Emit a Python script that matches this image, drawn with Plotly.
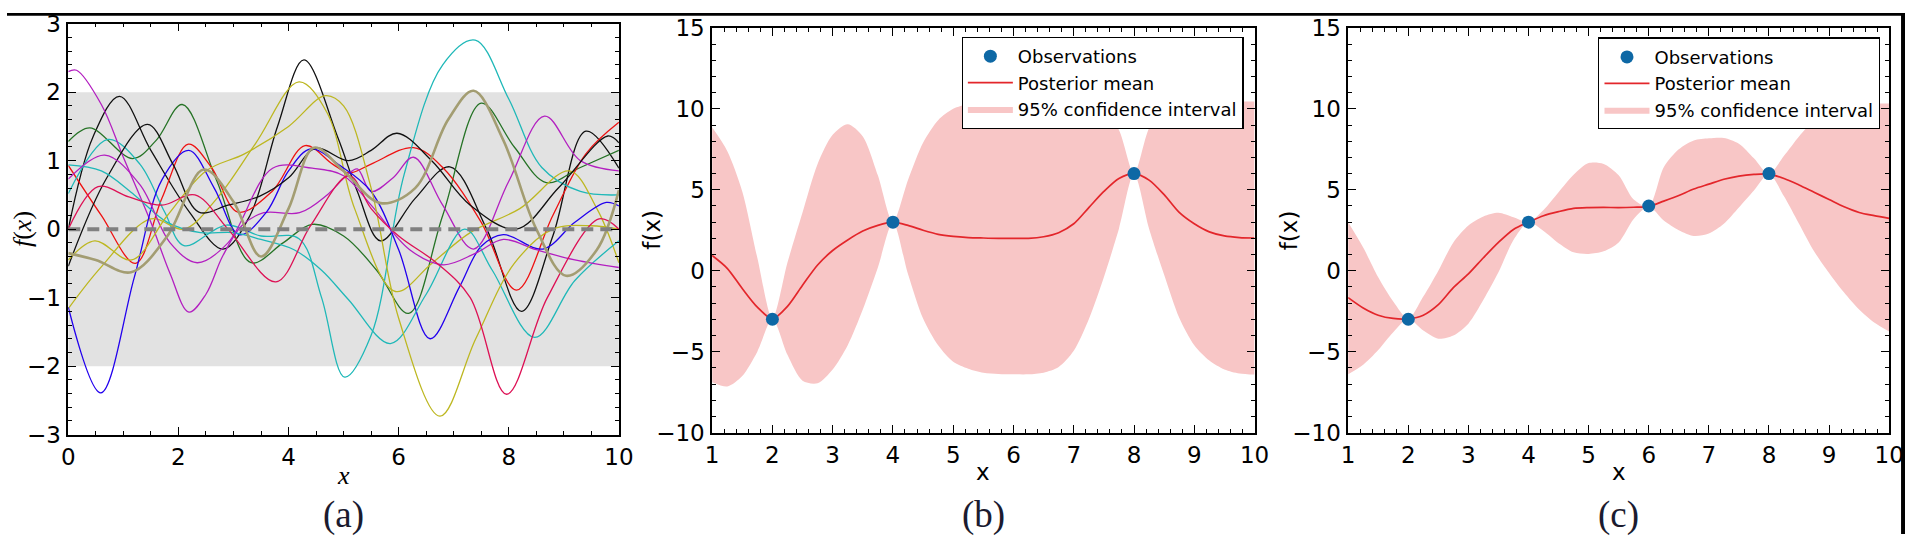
import plotly.graph_objs as go

W, H = 1920, 547

# ---------- panel (a): prior samples ----------
band_lo, band_hi = -2, 2
prior_mean = 0

k1_x = [0, 0.45, 0.93, 1.5, 2.2, 2.81, 3.3, 3.8, 4.28, 4.89, 5.25, 5.67, 6.3, 6.93, 7.6, 8.23, 8.8, 9.4, 10]
k1_y = [0.0, 1.35, 1.94, 1.15, 0.25, -0.29, 0.2, 1.5, 2.47, 1.35, 0.55, -0.17, 0.45, 0.91, 0.0, -1.2, -0.1, 1.43, 0.89]
k2_x = [0, 0.7, 1.44, 1.9, 2.37, 2.9, 3.47, 4.0, 4.49, 5.09, 5.5, 5.97, 6.6, 7.3, 8.14, 8.9, 9.8, 10]
k2_y = [-0.54, 0.75, 1.53, 0.95, 0.25, 0.35, 0.48, 0.75, 1.18, 1.0, 1.15, 1.4, 1.0, 0.35, 0.0, 0.6, 1.36, 1.26]
b1_x = [0, 0.59, 1.2, 1.7, 2.19, 2.65, 3.11, 3.6, 4.0, 4.4, 4.95, 5.5, 6.0, 6.57, 7.1, 7.5, 7.9, 8.62, 9.2, 9.77, 10]
b1_y = [-1.14, -2.39, -0.7, 0.72, 1.15, 0.6, -0.08, 0.25, 0.85, 1.17, 0.92, 0.55, -0.3, -1.6, -0.85, -0.25, -0.08, -0.29, 0.1, 0.39, 0.34]
m1_x = [0, 0.15, 0.6, 1.0, 1.5, 1.85, 2.19, 2.5, 2.8, 3.15, 3.55, 4.2, 4.7, 5.05, 5.25, 5.5, 5.9, 6.27, 6.8, 7.36, 8.0, 8.65, 9.3, 10]
m1_y = [2.30, 2.32, 1.82, 1.05, 0.1, -0.65, -1.21, -0.95, -0.4, 0.05, 0.24, 0.24, 0.5, 0.78, 0.88, 0.55, 0.75, 1.05, 0.35, -0.29, 0.7, 1.65, 1.0, 0.85]
m2_x = [0, 0.66, 1.3, 1.85, 2.34, 2.9, 3.71, 4.43, 5.0, 5.5, 6.2, 6.81, 7.4, 7.9, 8.5, 9.2, 10]
m2_y = [0.73, 1.08, 0.65, -0.2, -0.49, -0.2, 0.89, 0.89, 0.78, 0.35, -0.3, -0.52, -0.35, -0.15, -0.3, -0.45, -0.56]
r1_x = [0, 0.6, 1.22, 1.7, 2.18, 2.6, 3.08, 3.7, 4.3, 4.8, 5.1, 5.5, 6.27, 6.8, 7.5, 8.14, 8.8, 9.4, 10]
r1_y = [0.93, 0.2, -0.5, 0.45, 1.24, 0.9, 0.25, 0.55, 1.22, 0.95, 0.82, 0.95, 1.19, 0.9, 0.1, -0.89, 0.2, 1.1, 1.56]
r2_x = [0, 0.54, 1.1, 1.7, 2.3, 2.9, 3.77, 4.4, 5.1, 5.5, 6.0, 6.7, 7.3, 7.96, 8.7, 9.64, 10]
r2_y = [0.0, 0.62, 0.47, 0.35, 0.5, 0.0, -0.77, 0.05, 0.78, 0.3, -0.1, -0.5, -1.0, -2.41, -1.0, 0.15, 0.0]
c1_x = [0, 0.72, 1.3, 1.75, 2.1, 2.87, 3.5, 4.19, 4.6, 5.02, 5.5, 6.1, 6.8, 7.39, 8.0, 8.6, 9.3, 10]
c1_y = [0.52, 1.31, 0.95, 0.25, -0.24, 0.06, -0.1, -0.14, -1.0, -2.16, -1.55, 0.8, 2.4, 2.76, 1.9, 0.9, 0.55, 0.5]
c2_x = [0, 0.6, 1.2, 1.8, 2.4, 3.0, 3.5, 4.1, 4.6, 5.09, 5.85, 6.5, 7.2, 7.7, 8.47, 9.2, 10]
c2_y = [0.94, 0.85, 0.5, 0.1, -0.05, -0.05, -0.15, -0.3, -0.6, -1.03, -1.67, -0.95, 0.0, -0.6, -1.58, -0.75, -0.17]
y1_x = [0, 0.6, 1.5, 2.1, 2.7, 3.4, 4.19, 4.7, 5.2, 5.94, 6.6, 7.3, 8.2, 9.1, 9.6, 10]
y1_y = [-1.16, -0.55, 0.15, 0.0, 0.45, 1.25, 2.15, 1.7, 0.3, -0.91, -0.5, -0.05, 0.3, 0.85, 0.3, -0.49]
y2_x = [0, 0.48, 1.15, 1.8, 2.5, 3.2, 4.0, 4.67, 5.0, 5.5, 6.0, 6.75, 7.4, 8.1, 8.8, 9.5, 10]
y2_y = [-0.45, -0.17, -0.45, 0.2, 0.85, 1.1, 1.5, 1.95, 1.8, 0.6, -1.3, -2.73, -1.6, -0.5, 0.0, 0.05, 0.0]
o1_x = [0, 0.5, 1.14, 1.8, 2.46, 3.0, 3.5, 4.0, 4.46, 5.0, 5.67, 6.3, 6.9, 7.36, 7.9, 8.5, 9.04, 9.6, 10]
o1_y = [-0.35, -0.45, -0.63, -0.1, 0.87, 0.4, -0.4, 0.3, 1.19, 0.85, 0.38, 0.6, 1.6, 2.02, 1.3, 0.0, -0.68, -0.3, 0.57]
g1_x = [0, 0.39, 1.17, 1.6, 2.07, 2.7, 3.32, 3.9, 4.43, 5.0, 5.6, 6.18, 6.8, 7.5, 8.1, 8.68, 9.3, 10]
g1_y = [1.28, 1.48, 1.03, 1.3, 1.82, 0.7, -0.49, -0.2, 0.07, -0.1, -0.6, -1.23, 0.2, 1.84, 1.2, 0.68, 0.9, 1.15]

# ---------- panel (b): posterior with 3 observations ----------
grid = [1 + 0.25 * i for i in range(37)]
obs_b_x = [2, 4, 8]
obs_b_y = [-3, 3, 6]
mean_b = [0.94, 0.15, -1.1, -2.25, -2.97, -2.2, -0.9, 0.35, 1.25, 1.9, 2.45, 2.8, 3.0,
          2.8, 2.5, 2.25, 2.12, 2.05, 2.02, 2.0, 2.0, 2.0, 2.1, 2.35, 2.9, 3.9, 4.9, 5.7,
          6.0, 5.6, 4.7, 3.6, 2.9, 2.4, 2.15, 2.05, 2.02]
upper_b = [8.86, 7.4, 4.9, 0.8, -2.97, 0.5, 3.6, 6.6, 8.4, 9.05, 8.3, 5.9, 3.0,
           5.6, 7.9, 9.3, 10.0, 10.3, 10.38, 10.4, 10.4, 10.4, 10.4, 10.4, 10.35, 10.2, 9.9, 8.7,
           6.0, 8.8, 10.05, 10.35, 10.4, 10.42, 10.45, 10.45, 10.45]
lower_b = [-6.89, -7.15, -6.5, -5.0, -2.97, -5.2, -6.8, -6.95, -6.1, -4.6, -2.4, 0.2, 3.0,
           -0.2, -2.95, -4.6, -5.62, -6.05, -6.3, -6.38, -6.4, -6.4, -6.3, -5.95, -4.95, -3.0, -0.4, 2.6,
           6.0, 2.6, -0.25, -2.9, -4.6, -5.55, -6.1, -6.35, -6.42]

# ---------- panel (c): posterior with 4 observations ----------
obs_c_x = [2, 4, 6, 8]
obs_c_y = [-3, 3, 4, 6]
mean_c = [-1.66, -2.3, -2.75, -2.95, -2.97, -2.75, -2.1, -1.05, -0.2, 0.8, 1.75, 2.55, 3.0,
          3.4, 3.65, 3.85, 3.9, 3.91, 3.9, 3.92, 3.97, 4.3, 4.65, 5.05, 5.35, 5.65, 5.85, 5.95,
          5.97, 5.7, 5.3, 4.85, 4.4, 3.95, 3.6, 3.4, 3.23]
upper_c = [2.99, 1.43, -0.4, -1.9, -2.97, -1.6, 0.0, 1.75, 2.8, 3.35, 3.58, 3.3, 3.0,
           3.75, 4.85, 5.93, 6.65, 6.6, 5.9, 4.4, 3.97, 6.4, 7.5, 8.05, 8.18, 8.2, 7.85, 6.95,
           5.97, 7.1, 8.3, 9.3, 9.84, 10.15, 10.3, 10.33, 10.33]
lower_c = [-6.4, -5.81, -4.9, -3.8, -2.97, -3.7, -4.2, -4.0, -3.27, -1.8, -0.1, 1.9, 3.0,
           2.45, 1.7, 1.14, 1.04, 1.2, 1.75, 3.2, 3.97, 3.1, 2.5, 2.15, 2.3, 2.9, 3.9, 4.95,
           5.97, 4.6, 2.9, 1.2, -0.14, -1.35, -2.4, -3.2, -3.76]

# colours
c_blue, c_green, c_red, c_crim = '#2200ee', '#267326', '#ee1111', '#dd1155'
c_cyan, c_mag, c_yel, c_blk, c_olive = '#1fb8b8', '#b31fc0', '#bdb721', '#111111', '#a39d72'
band_grey = '#e2e2e2'
ci_fill = 'rgb(248,198,198)'
mean_red = '#e3262b'
obs_blue = '#0e68a5'

samples = [
    (k1_x, k1_y, c_blk, 1.3), (g1_x, g1_y, c_green, 1.3), (r1_x, r1_y, c_red, 1.3),
    (c1_x, c1_y, c_cyan, 1.3), (m1_x, m1_y, c_mag, 1.3), (y1_x, y1_y, c_yel, 1.3),
    (b1_x, b1_y, c_blue, 1.3), (k2_x, k2_y, c_blk, 1.3), (c2_x, c2_y, c_cyan, 1.3),
    (m2_x, m2_y, c_mag, 1.3), (y2_x, y2_y, c_yel, 1.3), (r2_x, r2_y, c_crim, 1.3),
    (o1_x, o1_y, c_olive, 2.6),
]

fig = go.Figure()

# grey +-2 band
fig.add_trace(go.Scatter(x=[0, 10, 10, 0], y=[band_lo, band_lo, band_hi, band_hi],
                         fill='toself', fillcolor=band_grey, line=dict(width=0),
                         mode='lines', showlegend=False, hoverinfo='skip',
                         xaxis='x', yaxis='y'))
for sx, sy, col, lw in samples:
    fig.add_trace(go.Scatter(x=sx, y=sy, mode='lines',
                             line=dict(color=col, width=lw, shape='spline', smoothing=1.0),
                             showlegend=False, xaxis='x', yaxis='y'))
# dashed prior mean
fig.add_trace(go.Scatter(x=[0, 10], y=[prior_mean, prior_mean], mode='lines',
                         line=dict(color='#808080', width=4, dash='12px,7px'),
                         showlegend=False, xaxis='x', yaxis='y'))


def add_posterior(xa, ya, mean, upper, lower, ox, oy, legend):
    fig.add_trace(go.Scatter(x=grid, y=lower, mode='lines',
                             line=dict(width=0, shape='spline', smoothing=0.8),
                             showlegend=False, hoverinfo='skip',
                             xaxis=xa, yaxis=ya, legend=legend))
    fig.add_trace(go.Scatter(x=grid, y=upper, mode='lines', fill='tonexty',
                             fillcolor=ci_fill,
                             line=dict(width=0, color=ci_fill, shape='spline', smoothing=0.8),
                             name='95% confidence interval', legendrank=3,
                             xaxis=xa, yaxis=ya, legend=legend))
    fig.add_trace(go.Scatter(x=grid, y=mean, mode='lines',
                             line=dict(color=mean_red, width=1.7, shape='spline', smoothing=0.8),
                             name='Posterior mean', legendrank=2,
                             xaxis=xa, yaxis=ya, legend=legend))
    fig.add_trace(go.Scatter(x=ox, y=oy, mode='markers',
                             marker=dict(color=obs_blue, size=13),
                             name='Observations', legendrank=1,
                             xaxis=xa, yaxis=ya, legend=legend))


add_posterior('x2', 'y2', mean_b, upper_b, lower_b, obs_b_x, obs_b_y, 'legend')
add_posterior('x3', 'y3', mean_c, upper_c, lower_c, obs_c_x, obs_c_y, 'legend2')

tick_font = dict(family='DejaVu Sans', size=23, color='black')


def axis(dom, rng, dtick, mdtick, anchor):
    return dict(domain=dom, range=rng, dtick=dtick, tick0=rng[0], anchor=anchor,
                showline=True, linecolor='black', linewidth=1.5, mirror='ticks',
                ticks='inside', ticklen=8, tickwidth=1.2, tickcolor='black',
                showgrid=False, zeroline=False, tickfont=tick_font,
                ticklabelstandoff=1,
                minor=dict(ticks='inside', ticklen=4, tickwidth=1, tickcolor='black',
                           dtick=mdtick, showgrid=False))


ya_dom = [1 - 442.7 / H, 1 - 11.2 / H]
yb_dom = [1 - 440.5 / H, 1 - 15.7 / H]
xa_dom = [62 / W, 619 / W]
xb_dom = [713.3 / W, 1262 / W]
xc_dom = [1356.7 / W, 1904 / W]

serif = 'Liberation Serif'
label_col = '#1b1b2f'
annos = [
    dict(text='<i>f</i>(<i>x</i>)', x=15 / W, y=1 - 227 / H, textangle=-90,
         font=dict(family=serif, size=26, color='black')),
    dict(text='<i>x</i>', x=340.5 / W, y=1 - 486 / H, font=dict(family=serif, size=26, color='black')),
    dict(text='(a)', x=340.5 / W, y=1 - 527 / H, font=dict(family=serif, size=37, color=label_col)),
    dict(text='f(x)', x=653 / W, y=1 - 228 / H, textangle=-90, font=tick_font),
    dict(text='x', x=987.7 / W, y=1 - 482 / H, font=tick_font),
    dict(text='(b)', x=987.7 / W, y=1 - 527 / H, font=dict(family=serif, size=37, color=label_col)),
    dict(text='f(x)', x=1297 / W, y=1 - 228 / H, textangle=-90, font=tick_font),
    dict(text='x', x=1630.4 / W, y=1 - 482 / H, font=tick_font),
    dict(text='(c)', x=1630.4 / W, y=1 - 527 / H, font=dict(family=serif, size=37, color=label_col)),
]
for a in annos:
    a.update(xref='paper', yref='paper', showarrow=False, xanchor='center', yanchor='middle')

legend_style = dict(bgcolor='white', bordercolor='black', borderwidth=1.2,
                    font=dict(family='DejaVu Sans', size=18, color='black'),
                    xref='paper', yref='paper', xanchor='right', yanchor='top',
                    itemwidth=45, tracegroupgap=0, traceorder='normal')

fig.update_layout(
    width=W, height=H, margin=dict(l=0, r=0, t=0, b=0),
    paper_bgcolor='white', plot_bgcolor='white',
    xaxis=axis(xa_dom, [0, 10], 2, 0.5, 'y'),
    yaxis=axis(ya_dom, [-3, 3], 1, 0.2, 'x'),
    xaxis2=axis(xb_dom, [1, 10], 1, 0.2, 'y2'),
    yaxis2=axis(yb_dom, [-10, 15], 5, 1, 'x2'),
    xaxis3=axis(xc_dom, [1, 10], 1, 0.2, 'y3'),
    yaxis3=axis(yb_dom, [-10, 15], 5, 1, 'x3'),
    legend=dict(x=1251 / W, y=1 - 25 / H, **legend_style),
    legend2=dict(x=1895 / W, y=1 - 25.7 / H, **legend_style),
    annotations=annos,
    shapes=[
        dict(type='rect', xref='paper', yref='paper', x0=0, x1=1, y0=1 - 3 / H, y1=1,
             fillcolor='black', line=dict(width=0)),
        dict(type='rect', xref='paper', yref='paper', x0=1916 / W, x1=1, y0=0, y1=1,
             fillcolor='black', line=dict(width=0)),
    ],
)

# drop the default page margin so the 1920x547 figure sits flush in the window
fig.write_html("out.html", config={'displayModeBar': False},
               post_script="document.body.style.margin='0px';")
